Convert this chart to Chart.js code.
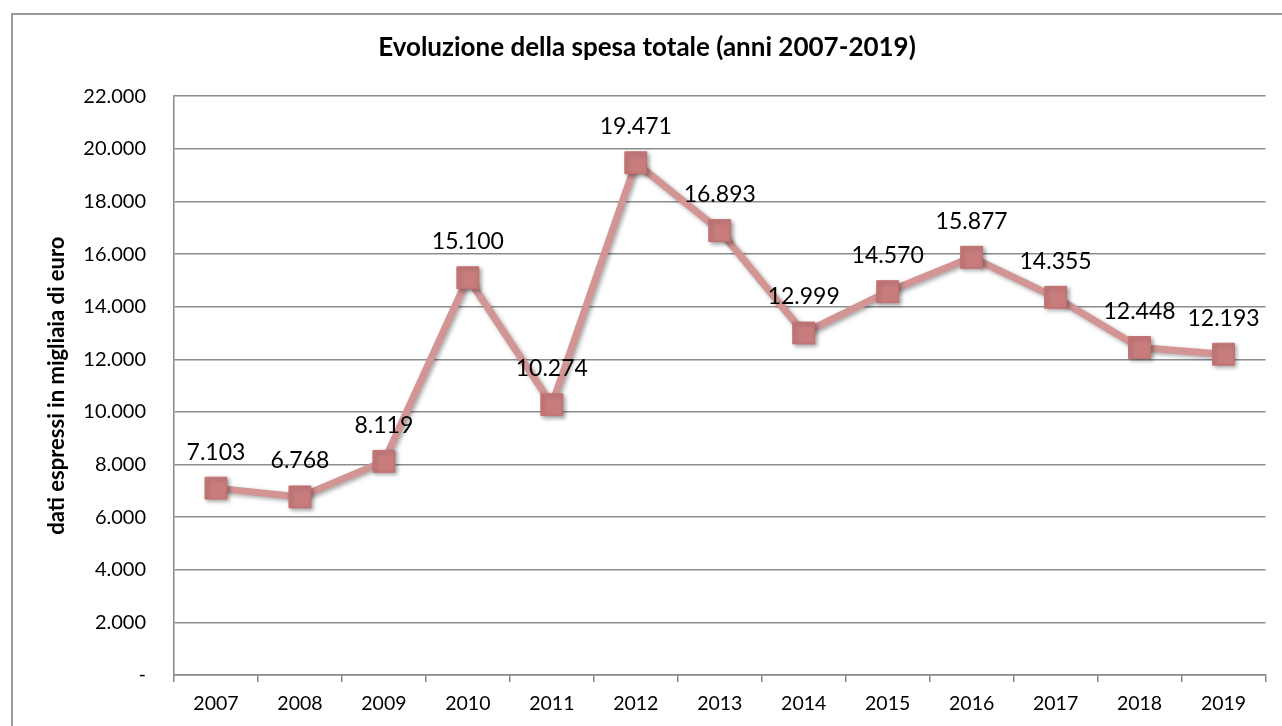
<!DOCTYPE html>
<html>
<head>
<meta charset="utf-8">
<script src="https://cdn.jsdelivr.net/npm/chart.js@4"></script>
<style>
  html, body { margin: 0; padding: 0; background: #fff; overflow: hidden; }
  #frame {
    position: absolute; left: 11px; top: 13px; width: 1300px; height: 740px;
    border: 2px solid #9a9a9a; box-sizing: border-box;
  }
  #wrap { position: absolute; left: 0; top: 0; width: 1282px; height: 726px; }
</style>
</head>
<body>
<div id="frame"></div>
<div id="wrap"><canvas id="spesaChart" width="1282" height="726"></canvas></div>
<script>
const anni = ['2007', '2008', '2009', '2010', '2011', '2012', '2013', '2014', '2015', '2016', '2017', '2018', '2019'];
const spesaTotale = [7103, 6768, 8119, 15100, 10274, 19471, 16893, 12999, 14570, 15877, 14355, 12448, 12193];
const yMax = 22000;
const yStep = 2000;

const FONT = 'Lato, Carlito, Calibri, "DejaVu Sans", sans-serif';

function fmt(v) {
    if (v === 0) return '-';
    return v.toString().replace(/\B(?=(\d{3})+(?!\d))/g, '.');
}

// shadow under line and markers, like the Excel look
const shadowPlugin = {
    id: 'shadow',
    beforeDatasetsDraw(chart) {
        const c = chart.ctx;
        c.save();
        c.shadowColor = 'rgba(0,0,0,0.35)';
        c.shadowBlur = 4;
        c.shadowOffsetX = 2;
        c.shadowOffsetY = 2;
    },
    afterDatasetsDraw(chart) {
        chart.ctx.restore();
    }
};

// value labels above each point
const labelPlugin = {
    id: 'valueLabels',
    afterDatasetsDraw(chart) {
        const c = chart.ctx;
        const meta = chart.getDatasetMeta(0);
        c.save();
        c.font = '23px ' + FONT;
        c.fillStyle = '#000';
        c.textAlign = 'center';
        c.textBaseline = 'middle';
        meta.data.forEach((pt, i) => {
            c.fillText(fmt(spesaTotale[i]), pt.x, pt.y - 36);
        });
        c.restore();
    }
};

const ctx = document.getElementById('spesaChart').getContext('2d');

const spesaChart = new Chart(ctx, {
    type: 'line',
    data: {
        labels: anni,
        datasets: [{
            label: 'Spesa totale',
            data: spesaTotale,
            borderColor: '#d39494',
            borderWidth: 7,
            tension: 0,
            pointStyle: 'rect',
            pointRadius: 15.5,
            pointBackgroundColor: '#c97c7c',
            pointBorderColor: '#c27272',
            pointBorderWidth: 1,
            fill: false
        }]
    },
    options: {
        responsive: false,
        animation: false,
        layout: { padding: { left: 26, right: 14, top: 0, bottom: 0 } },
        plugins: {
            legend: { display: false },
            tooltip: { enabled: false },
            title: {
                display: true,
                text: 'Evoluzione della spesa totale (anni 2007-2019)',
                color: '#000',
                font: { family: FONT, size: 26, weight: 'bold' },
                padding: { top: 32, bottom: 33 }
            }
        },
        scales: {
            x: {
                offset: true,
                grid: {
                    offset: true,
                    drawOnChartArea: false,
                    drawTicks: true,
                    tickLength: 7,
                    color: '#888',
                    lineWidth: 1.5
                },
                border: { display: true, color: '#888', width: 1.5 },
                ticks: {
                    color: '#000',
                    font: { family: FONT, size: 19.5 },
                    padding: 10,
                    maxRotation: 0
                },
                afterFit(scale) { scale.height = 51; }
            },
            y: {
                min: 0,
                max: yMax,
                grid: {
                    color: '#8c8c8c',
                    lineWidth: 1.5,
                    drawTicks: false
                },
                border: { display: true, color: '#888', width: 1.5 },
                ticks: {
                    stepSize: yStep,
                    color: '#000',
                    font: { family: FONT, size: 20 },
                    padding: 28,
                    callback: v => fmt(v)
                },
                title: {
                    display: true,
                    text: 'dati espressi in migliaia di euro',
                    color: '#000',
                    font: { family: FONT, size: 22, weight: 'bold' },
                    padding: { top: 18, bottom: 0 }
                },
                afterFit(scale) { scale.width = 148; }
            }
        }
    },
    plugins: [shadowPlugin, labelPlugin]
});
</script>
</body>
</html>
